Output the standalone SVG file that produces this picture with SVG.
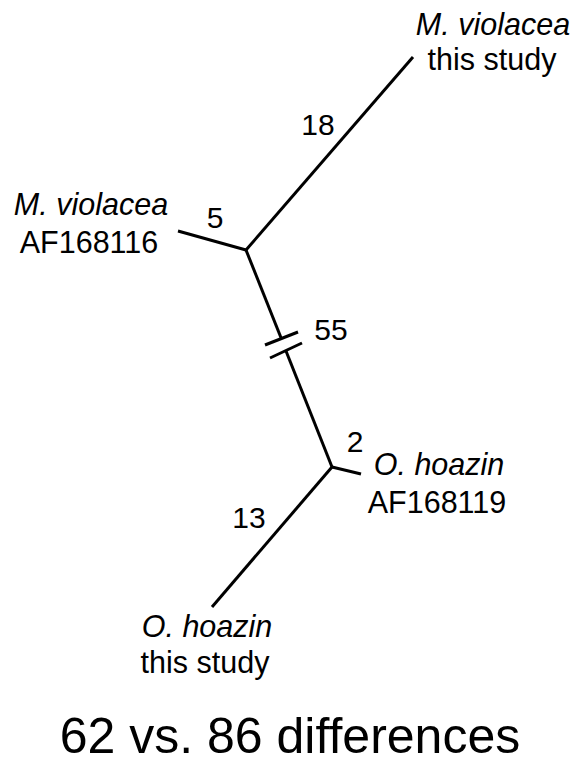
<svg xmlns="http://www.w3.org/2000/svg" width="575" height="764" viewBox="0 0 575 764">
<style>
.br{stroke:#000;stroke-width:3;fill:none;stroke-linecap:butt}
text{font-family:"Liberation Sans",Arial,sans-serif;font-size:30.5px;fill:#000;text-anchor:middle}
.it{font-style:italic}
.num{font-size:30px}
.title{font-size:50px}
</style>
<rect width="575" height="764" fill="#fff"/>
<g id="connectors">
<line class="br" x1="246" y1="250" x2="413" y2="57"/>
<line class="br" x1="246" y1="250" x2="178" y2="231"/>
<line class="br" x1="246" y1="250" x2="281.5" y2="339"/>
<line class="br" x1="286" y1="351" x2="332" y2="467"/>
<line class="br" x1="265" y1="345" x2="298" y2="332"/>
<line class="br" x1="270" y1="358" x2="302" y2="343"/>
<line class="br" x1="332" y1="467" x2="361" y2="474"/>
<line class="br" x1="332" y1="467" x2="212" y2="607"/>
</g>
<g id="labels-branches">
<text class="num" x="318" y="135">18</text>
<text class="num" x="215" y="228">5</text>
<text class="num" x="331" y="340">55</text>
<text class="num" x="355" y="452">2</text>
<text class="num" x="249" y="528">13</text>
</g>
<g id="node-mviolacea-study">
<text class="it" x="493" y="35">M. violacea</text>
<text x="492" y="70">this study</text>
</g>
<g id="node-mviolacea-af">
<text class="it" x="91" y="215">M. violacea</text>
<text x="89" y="253">AF168116</text>
</g>
<g id="node-ohoazin-af">
<text class="it" x="439" y="475">O. hoazin</text>
<text x="437" y="513">AF168119</text>
</g>
<g id="node-ohoazin-study">
<text class="it" x="207" y="637">O. hoazin</text>
<text x="205" y="673">this study</text>
</g>
<g id="title">
<text class="title" x="290" y="753">62 vs. 86 differences</text>
</g>
</svg>
